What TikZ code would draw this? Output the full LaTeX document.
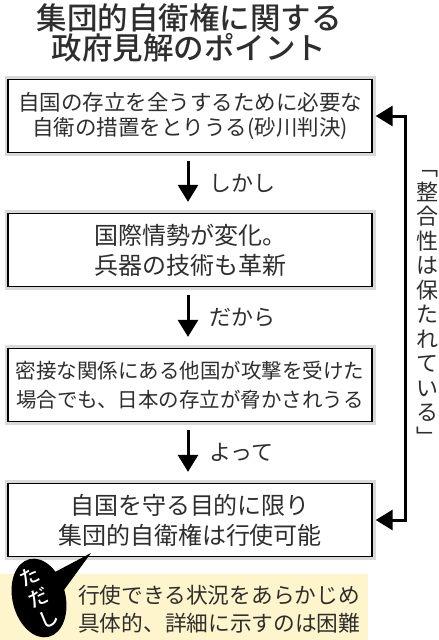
\documentclass[tikz,border=0pt]{standalone}
\usepackage{fontspec}
\setmainfont{Noto Sans CJK JP}[BoldFont={Noto Sans CJK JP Medium}]
\usetikzlibrary{arrows.meta,positioning,shapes.geometric}
\definecolor{ink}{HTML}{2E2E2E}
\definecolor{band}{HTML}{FFF5CC}
\newcommand{\jfont}[2]{\fontsize{#1}{#2}\selectfont}

\begin{document}
\begin{tikzpicture}[x=1pt, y=-1pt, every node/.style={text=ink, inner sep=0pt},
	box/.style={draw=black, line width=1.3pt, fill=white, minimum width=364pt, minimum height=73pt, align=center,
		preaction={draw=gray!30, line width=7pt, rounded corners=3pt}},
	flow/.style={-{Triangle[length=17pt,width=20pt]}, line width=3pt, shorten <=8pt, shorten >=11pt},
	>={Triangle[length=17pt,width=20pt]}]
	\useasboundingbox (0,0) rectangle (439,640);
	\fill[band] (0,574) rectangle (368,640);
	% title
	\node[font=\jfont{30.5}{30}\bfseries, align=center] (title) at (189,33) {集団的自衛権に関する\\政府見解のポイント};
	% flow of boxes
	\node[box, font=\jfont{21.5}{25.5}] (b1) at (190,116) {自国の存立を全うするために必要な\\自衛の措置をとりうる(砂川判決)};
	\node[box, font=\jfont{24}{30}] (b2) at (190,250) {国際情勢が変化。\\兵器の技術も革新};
	\node[box, font=\jfont{20.5}{29}] (b3) at (190,385) {密接な関係にある他国が攻撃を受けた\\場合でも、日本の存立が脅かされうる};
	\node[box, font=\jfont{24}{30}] (b4) at (190,520) {自国を守る目的に限り\\集団的自衛権は行使可能};
	\draw[flow] ([xshift=-2pt]b1.south) -- ([xshift=-2pt]b2.north) node[midway, right=20pt, font=\jfont{22}{22}] (l1) {しかし};
	\draw[flow] ([xshift=-2pt]b2.south) -- ([xshift=-2pt]b3.north) node[midway, right=20pt, font=\jfont{22}{22}] (l2) {だから};
	\draw[flow] ([xshift=-2pt]b3.south) -- ([xshift=-2pt]b4.north) node[midway, right=20pt, font=\jfont{22}{22}] (l3) {よって};
	% bracket on the right
	\draw[<->, line width=3pt] ([xshift=3pt]b1.east) -- ++(30,0) |- ([xshift=3pt]b4.east);
	\node[font=\jfont{22}{24.5}, align=center] (keep) at (427,308) {﹁\\整\\合\\性\\は\\保\\た\\れ\\て\\い\\る\\﹂};
	% proviso
	\fill (55,572) -- (91,553) -- (64,590) -- cycle;
	\node[ellipse, fill=black, minimum width=53pt, minimum height=80pt, rotate=14] (bubble) at (39,598) {};
	\node[rotate=24, text=white, font=\jfont{20}{23}\bfseries, align=center] (tadashi) at (bubble.center) {た\\だ\\し};
	\node[font=\jfont{21.7}{28}, align=left, anchor=west] (note) at (78,609) {行使できる状況をあらかじめ\\具体的、詳細に示すのは困難};
\end{tikzpicture}
\end{document}
